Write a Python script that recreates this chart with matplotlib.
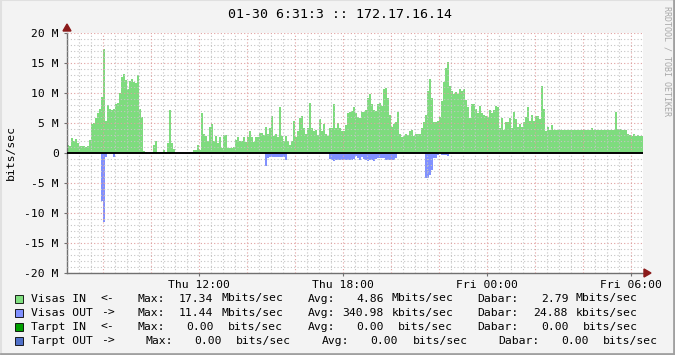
import numpy as np
import matplotlib
matplotlib.use("Agg")
import matplotlib.pyplot as plt
from matplotlib.patches import Rectangle

# 5-minute samples, Mbits/sec, starting Thu 06:31
visas_in = [
    1.3, 1.2, 2.5, 2.0, 2.3, 1.7, 1.2, 1.2, 1.2, 1.05, 1.2, 2.2,
    4.8, 5.0, 5.9, 6.7, 7.4, 9.4, 17.34, 5.3, 8.0, 7.4, 7.2, 7.4,
    8.1, 8.4, 10.0, 12.6, 13.2, 12.1, 10.7, 12.0, 12.3, 11.9, 11.6, 13.0,
    7.3, 6.0, 0.3, 0.15, 0, 0, 0, 1.3, 2.0, 0.2, 0.2, 0.2,
    0.55, 0.2, 1.7, 7.2, 1.7, 0.6, 0, 0, 0, 0, 0, 0,
    0, 0.2, 0.2, 0.55, 0.55, 1.3, 0.55, 6.6, 3.1, 2.8, 2.0, 4.3,
    4.8, 2.0, 2.9, 1.6, 2.6, 0.9, 3.0, 3.0, 0.8, 0.8, 0.9, 1.0,
    2.1, 2.7, 2.0, 2.0, 2.6, 1.9, 2.6, 3.6, 2.7, 1.8, 2.6, 2.6,
    3.4, 3.4, 3.0, 4.4, 3.1, 4.2, 6.2, 2.8, 3.2, 2.6, 7.6, 2.8,
    2.0, 2.9, 2.0, 1.4, 2.0, 5.3, 2.7, 3.7, 5.9, 6.2, 4.2, 3.2,
    4.2, 8.4, 4.2, 3.7, 3.9, 3.0, 5.7, 3.7, 4.9, 3.2, 2.9, 4.2,
    4.2, 8.2, 4.2, 5.0, 4.1, 3.7, 3.6, 4.7, 6.7, 6.8, 7.0, 7.6,
    6.7, 6.0, 5.8, 6.9, 6.8, 7.2, 9.1, 9.8, 8.1, 7.1, 7.0, 8.2,
    8.4, 7.9, 10.6, 10.9, 9.2, 6.4, 4.3, 4.8, 5.2, 6.9, 3.2, 2.6,
    2.9, 3.1, 3.0, 3.6, 3.8, 2.8, 3.2, 3.2, 3.1, 4.2, 5.2, 6.4,
    10.3, 12.4, 9.2, 5.2, 5.1, 5.3, 6.0, 8.6, 11.9, 14.2, 15.1, 11.2,
    10.3, 9.8, 10.2, 9.8, 10.7, 10.4, 10.6, 8.9, 7.6, 5.8, 8.1, 8.2,
    7.4, 6.6, 7.9, 6.6, 6.3, 6.2, 6.0, 7.1, 6.7, 7.2, 7.9, 7.7,
    4.1, 5.9, 3.9, 5.2, 5.2, 5.9, 4.1, 6.9, 5.6, 4.4, 4.9, 4.4,
    5.1, 6.0, 7.7, 5.3, 6.3, 5.4, 6.2, 6.2, 5.7, 11.2, 7.4, 3.6,
    4.4, 3.9, 4.6, 3.9, 3.9, 3.9, 3.9, 3.9, 3.9, 3.9, 3.9, 3.9,
    3.9, 3.9, 3.9, 3.9, 3.9, 3.9, 3.9, 3.9, 3.9, 3.9, 4.1, 3.9,
    3.9, 3.9, 3.9, 3.9, 3.8, 3.8, 3.9, 3.9, 3.9, 3.9, 6.9, 4.0,
    4.0, 3.9, 3.9, 3.9, 3.1, 3.0, 2.9, 3.1, 2.8, 3.0, 2.8, 2.8,
]

visas_out = [
    0, 0, 0, 0, 0, 0, 0, 0, 0, 0, 0, 0,
    0, 0, 0, 0, 0, 8.0, 11.44, 0.7, 0, 0, 0, 0.6,
    0, 0, 0, 0, 0, 0, 0, 0, 0, 0, 0, 0,
    0, 0, 0, 0, 0, 0, 0, 0, 0, 0, 0, 0,
    0, 0, 0, 0.2, 0, 0, 0, 0, 0, 0, 0, 0,
    0, 0, 0, 0, 0, 0, 0, 0, 0, 0, 0, 0.2,
    0, 0, 0, 0, 0, 0, 0.2, 0.2, 0, 0, 0.2, 0,
    0.2, 0.2, 0.2, 0.2, 0.2, 0, 0, 0.2, 0, 0, 0, 0,
    0, 0, 0, 2.2, 0.8, 0.7, 0.7, 0.6, 0.6, 0.6, 0.7, 0.6,
    0.6, 1.1, 0.2, 0, 0, 0.2, 0, 0, 0, 0.2, 0, 0,
    0.2, 0, 0, 0, 0, 0, 0, 0, 0, 0, 0, 1.0,
    1.2, 1.3, 1.2, 1.2, 1.2, 1.1, 1.1, 1.2, 1.1, 1.2, 1.2, 1.05,
    0.55, 0.8, 1.1, 0.7, 1.0, 1.1, 1.3, 1.2, 1.2, 1.3, 1.0, 0.9,
    0.9, 0.9, 0.9, 1.1, 1.1, 1.1, 1.1, 1.1, 0.8, 0.2, 0, 0,
    0, 0, 0, 0, 0, 0.2, 0, 0, 0, 0, 0, 4.2,
    4.2, 3.7, 2.9, 0.9, 0.8, 0.3, 0.2, 0.35, 0.35, 0.35, 0.5, 0.15,
    0.15, 0.15, 0.15, 0.15, 0.15, 0.15, 0.15, 0.15, 0.15, 0.15, 0.15, 0.2,
    0.2, 0, 0, 0, 0, 0, 0, 0, 0, 0, 0, 0,
    0, 0, 0, 0, 0, 0, 0.2, 0.2, 0, 0, 0, 0,
    0, 0, 0, 0, 0, 0, 0, 0, 0, 0.2, 0, 0,
    0, 0, 0, 0, 0, 0, 0, 0, 0, 0, 0, 0,
    0, 0, 0, 0, 0, 0, 0, 0, 0, 0, 0, 0,
    0, 0, 0, 0, 0, 0, 0, 0, 0, 0, 0, 0,
    0, 0, 0, 0, 0, 0, 0, 0, 0, 0, 0, 0,
]

start_hour = 6 + 31 / 60.0
step_hour = 5 / 60.0
tick_hours = [12, 18, 24, 30]
tick_labels = ["Thu 12:00", "Thu 18:00", "Fri 00:00", "Fri 06:00"]
y_ticks = [-20, -15, -10, -5, 0, 5, 10, 15, 20]

legend_rows = [
    ("#80E080", ["Visas IN", "<-", "Max:", "17.34", "Mbits/sec", "Avg:", "4.86", "Mbits/sec", "Dabar:", "2.79", "Mbits/sec"]),
    ("#8090FF", ["Visas OUT", "->", "Max:", "11.44", "Mbits/sec", "Avg:", "340.98", "kbits/sec", "Dabar:", "24.88", "kbits/sec"]),
    ("#00A000", ["Tarpt IN", "<-", "Max:", "0.00", "bits/sec", "Avg:", "0.00", "bits/sec", "Dabar:", "0.00", "bits/sec"]),
    ("#5070C8", ["Tarpt OUT", "->", "Max:", "0.00", "bits/sec", "Avg:", "0.00", "bits/sec", "Dabar:", "0.00", "bits/sec"]),
]
# left pixel of each legend piece, per row
legend_x = [
    [30.7, 100.7, 137.7, 179, 221.7, 308, 356, 391.7, 477.7, 541, 576],
    [30.7, 100.7, 137.7, 179, 221.7, 308, 342.7, 391.7, 477.7, 533.3, 576],
    [30.7, 100.7, 137.7, 186.7, 228.3, 308, 356, 398.3, 477.7, 541, 582.7],
    [30.7, 100.7, 145, 194, 235.7, 322, 370.7, 412.7, 498.3, 561.7, 603.3],
]
legend_y = [298.5, 312.8, 326.8, 341]

W, H = 675, 355
mono = "DejaVu Sans Mono"
fs = 8.2

fig = plt.figure(figsize=(W / 100, H / 100), dpi=100, facecolor="#F3F3F3")
ax = fig.add_axes([67 / W, 1 - 273 / H, 576 / W, 240 / H])
ax.set_facecolor("white")

edges = start_hour + step_hour * np.arange(len(visas_in) + 1)
ax.stairs(visas_in, edges, fill=True, color="#7EDC7E", linewidth=0)
ax.stairs(-np.array(visas_out), edges, fill=True, color="#8090FF", linewidth=0)

x0, x1 = start_hour, start_hour + 24
ax.set_xlim(x0, x1)
ax.set_ylim(-20, 20)

# grid on top, like rrdtool
for h in np.arange(7, 31, 0.5):
    if h % 2 != 0:
        ax.axvline(h, color="#C4C4C4", lw=0.8, ls=(0, (1, 2)), zorder=3)
for v in range(-19, 20):
    if v % 5 != 0:
        ax.axhline(v, color="#C4C4C4", lw=0.8, ls=(0, (1, 2)), zorder=3)
for h in range(8, 31, 2):
    ax.axvline(h, color="#E0A0A0", lw=0.8, ls=(0, (1, 2)), zorder=3)
for v in y_ticks:
    if v != 0:
        ax.axhline(v, color="#E0A0A0", lw=0.8, ls=(0, (1, 2)), zorder=3)
ax.axhline(0, color="black", lw=1.4, zorder=4)

for s in ["top", "right"]:
    ax.spines[s].set_visible(False)
for s in ["left", "bottom"]:
    ax.spines[s].set_color("#707070")
    ax.spines[s].set_linewidth(1.0)

ax.set_xticks(tick_hours)
ax.set_xticklabels(tick_labels, fontfamily=mono, fontsize=fs)
ax.set_yticks(y_ticks)
ax.set_yticklabels([f"{v} M" if v != 0 else "0" for v in y_ticks], fontfamily=mono, fontsize=fs)
ax.tick_params(axis="both", length=2, color="#707070", pad=3)
ax.tick_params(axis="y", pad=4)

# axis arrows
fig.patches.append(plt.Polygon([[67 / W, 1 - 24 / H], [63 / W, 1 - 31 / H], [71 / W, 1 - 31 / H]],
                               closed=True, color="#8B1A1A", transform=fig.transFigure))
fig.patches.append(plt.Polygon([[651 / W, 1 - 273 / H], [644 / W, 1 - 269 / H], [644 / W, 1 - 277 / H]],
                               closed=True, color="#8B1A1A", transform=fig.transFigure))

fig.text(340 / W, 1 - 14 / H, "01-30 6:31:3 :: 172.17.16.14", ha="center", va="center",
         fontfamily=mono, fontsize=9.5)
fig.text(11 / W, 1 - 153 / H, "bits/sec", rotation=90, ha="center", va="center",
         fontfamily=mono, fontsize=fs)
fig.text(667 / W, 1 - 6 / H, "RRDTOOL / TOBI OETIKER", rotation=270, ha="center", va="top",
         fontfamily=mono, fontsize=6, color="#A8A8A8")

for (color, pieces), xs, yy in zip(legend_rows, legend_x, legend_y):
    fig.patches.append(Rectangle((15 / W, 1 - (yy + 4) / H), 8 / W, 8 / H, facecolor=color,
                                 edgecolor="black", linewidth=0.6, transform=fig.transFigure))
    for txt, xx in zip(pieces, xs):
        fig.text(xx / W, 1 - yy / H, txt, ha="left", va="center", fontfamily=mono, fontsize=fs)

# canvas border: light top/left, darker bottom/right
fig.patches.append(plt.Line2D([0.001, 0.001, 0.999], [0.001, 0.999, 0.999], color="#E0E0E0",
                              linewidth=1.5, transform=fig.transFigure))
fig.patches.append(plt.Line2D([0.001, 0.999, 0.999], [0.002, 0.002, 0.999], color="#A0A0A0",
                              linewidth=2, transform=fig.transFigure))

fig.savefig("out.png", dpi=100, facecolor=fig.get_facecolor())
